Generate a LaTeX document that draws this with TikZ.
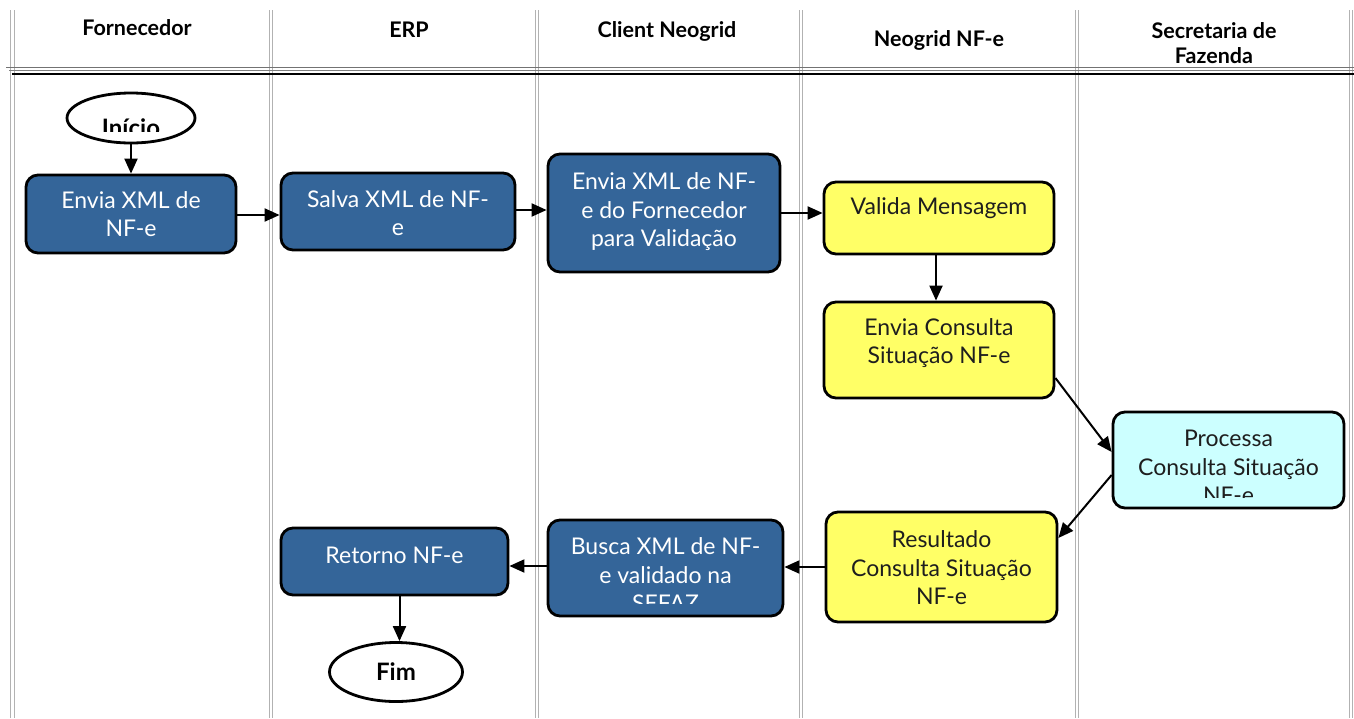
\documentclass[tikz,border=0pt]{standalone}
\usepackage{fontspec}
\setmainfont{Lato}
\usetikzlibrary{arrows.meta,shapes.geometric}
\definecolor{boxblue}{RGB}{52,101,153}
\definecolor{boxyellow}{RGB}{255,255,102}
\definecolor{boxcyan}{RGB}{204,255,255}
\definecolor{txtdark}{RGB}{30,30,30}
\begin{document}
\begin{tikzpicture}[x=1pt,y=-1pt,
  lane/.style={draw=black!30, line width=0.9pt, double=white, double distance=2.6pt},
  box/.style={draw=black, line width=2.8pt, rounded corners=12pt, inner sep=0pt},
  bluebox/.style={box, fill=boxblue},
  yellowbox/.style={box, fill=boxyellow},
  cyanbox/.style={box, fill=boxcyan},
  term/.style={ellipse, draw=black, line width=2.8pt, fill=white, inner sep=0pt},
  arr/.style={draw=black, line width=2pt, -{Triangle[length=15pt,width=13pt]}},
  txt/.style={font=\fontsize{23}{28.5}\selectfont, align=center, inner sep=0pt},
  wtxt/.style={txt, text=white},
  dtxt/.style={txt, text=txtdark},
  head/.style={font=\fontsize{21.5}{25}\selectfont\bfseries, align=center, inner sep=0pt},
  termtxt/.style={font=\fontsize{24}{28}\selectfont\bfseries, inner sep=0pt}
]
\useasboundingbox (0,0) rectangle (1354,718);
\fill[white] (0,0) rectangle (1354,718);

% lanes
\foreach \x in {12.5,271,537,801,1077,1351}
  \draw[lane] (\x,10) -- (\x,718);
\draw[draw=black!55, line width=1.6pt] (6,67.5) -- (1354,67.5);
\draw[draw=black!50, line width=0.8pt] (9,70.5) -- (1354,70.5);
\draw[line width=2pt] (12,73.5) -- (1354,73.5);

% headers
\node[head] (h1) at (137,28) {Fornecedor};
\node[head] (h2) at (409,30) {ERP};
\node[head] (h3) at (667,31) {Client Neogrid};
\node[head] (h4) at (939,40) {Neogrid NF-e};
\node[head] (h5) at (1214,43) {Secretaria de\\Fazenda};

% terminals
\node[term, minimum width=128pt, minimum height=50pt] (inicio) at (131,118) {};
\begin{scope}
  \clip (60,90) rectangle (200,131);
  \node[termtxt, anchor=base] (tinicio) at (131,136) {Início};
\end{scope}
\node[term, minimum width=133pt, minimum height=59pt] (fim) at (396,672) {};
\node[termtxt] (tfim) at (396,672) {Fim};

% boxes
\node[bluebox, minimum width=210pt, minimum height=78pt] (envia1) at (131,214) {};
\node[wtxt] (tenvia1) at (131,214) {Envia XML de\\NF-e};

\node[bluebox, minimum width=234pt, minimum height=77pt] (salva) at (398,211.5) {};
\node[wtxt] (tsalva) at (398,213) {Salva XML de NF-\\e};

\node[bluebox, minimum width=232pt, minimum height=118pt] (envia2) at (664,213) {};
\node[wtxt] (tenvia2) at (664,212) {Envia XML de NF-\\e do Fornecedor\\para Validação};

\node[yellowbox, minimum width=230pt, minimum height=72pt] (valida) at (939,218) {};
\node[dtxt] (tvalida) at (939,208) {Valida Mensagem};

\node[yellowbox, minimum width=230pt, minimum height=96pt] (consulta) at (939,350) {};
\node[dtxt] (tconsulta) at (939,343) {Envia Consulta\\Situação NF-e};

\node[cyanbox, minimum width=231pt, minimum height=96pt] (processa) at (1228.5,460) {};
\begin{scope}
  \clip (1113,412) rectangle (1344,497);
  \node[dtxt] (tprocessa) at (1228.5,467) {Processa\\Consulta Situação\\NF-e};
\end{scope}

\node[yellowbox, minimum width=231pt, minimum height=110pt] (resultado) at (941.5,567) {};
\node[dtxt] (tresultado) at (941.5,568) {Resultado\\Consulta Situação\\NF-e};

\node[bluebox, minimum width=235pt, minimum height=96pt] (busca) at (665.5,568) {};
\begin{scope}
  \clip (548,520) rectangle (783,603);
  \node[wtxt] (tbusca) at (665.5,575) {Busca XML de NF-\\e validado na\\SEFAZ};
\end{scope}

\node[bluebox, minimum width=227pt, minimum height=67pt] (retorno) at (394.5,561.5) {};
\node[wtxt] (tretorno) at (394.5,555) {Retorno NF-e};

% connector end points
\coordinate (c1) at ([yshift=-1pt]envia1.east);
\coordinate (c2) at ([yshift=1.5pt]salva.east);
\coordinate (c3) at ([yshift=-28pt]consulta.east);
\coordinate (c4) at ([yshift=8pt]processa.west);
\coordinate (c5) at ([yshift=-15pt]processa.west);
\coordinate (c6) at ([yshift=29pt]resultado.east);
\coordinate (c7) at ([yshift=2pt]busca.west);
\coordinate (c8) at ([xshift=5pt]retorno.south);
\coordinate (c9) at ([xshift=-3pt]valida.south);

% connectors
\draw[arr] (inicio.south) -- (envia1.north);
\draw[arr] (c1) -- (salva.west |- c1);
\draw[arr] (c2) -- (envia2.west |- c2);
\draw[arr] (envia2.east) -- (valida.west |- envia2.east);
\draw[arr] (c9) -- (consulta.north -| c9);
\draw[arr] (c3) -- (c4);
\draw[arr] (c5) -- (c6);
\draw[arr] (resultado.west) -- (busca.east |- resultado.west);
\draw[arr] (c7) -- (retorno.east |- c7);
\draw[arr] (c8) -- (fim.north -| c8);
\end{tikzpicture}
\end{document}
